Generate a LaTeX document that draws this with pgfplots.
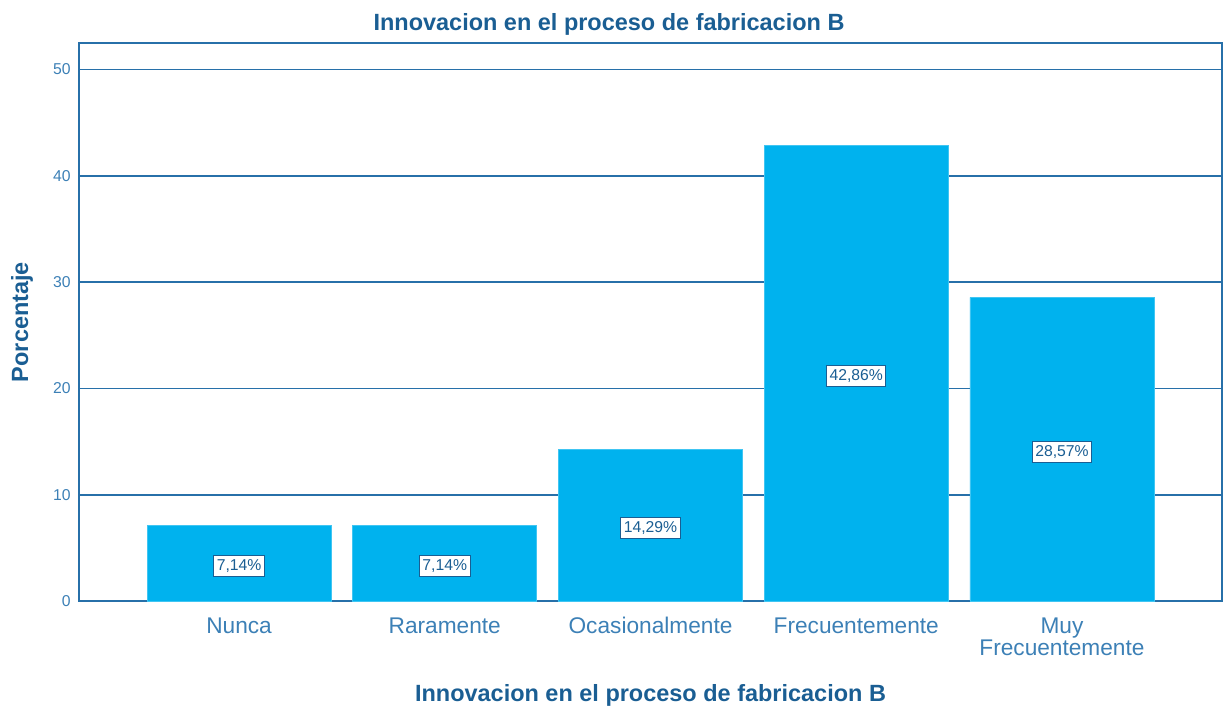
\documentclass[border=0pt]{standalone}
\usepackage{pgfplots}
\pgfplotsset{compat=1.18}
\usepackage{fontspec}
\setmainfont{Liberation Sans}

\definecolor{barblue}{HTML}{00B2EE}
\definecolor{linecol}{HTML}{2770A9}
\definecolor{textcol}{HTML}{1A5E93}
\definecolor{tickcol}{HTML}{3C80B6}

\begin{document}
\begin{tikzpicture}
\begin{axis}[
  name=ax,
  scale only axis,
  width=857pt, height=418.5pt,
  ybar, bar width=138pt,
  xmin=-0.778, xmax=4.778,
  ymin=0, ymax=52.5,
  ytick={0,10,...,50},
  xtick={0,...,4},
  xticklabels={Nunca, Raramente, Ocasionalmente, Frecuentemente, {Muy\\Frecuentemente}},
  ymajorgrids,
  grid style={linecol, line width=1.1pt},
  axis line style={linecol, line width=1.1pt},
  major tick length=0pt,
  /pgf/number format/assume math mode=true,
  yticklabel style={font=\fontsize{11.8}{13}\selectfont, text=tickcol, anchor=east, inner sep=0pt, xshift=-6pt},
  xticklabel style={font=\fontsize{17}{16.5}\selectfont, text=tickcol, align=center, anchor=north, inner sep=0pt, yshift=-12pt},
  title={Innovacion en el proceso de fabricacion B},
  title style={at={(axis description cs:0.4637,1.0072)}, anchor=base, inner sep=0pt, font=\bfseries\fontsize{17.6}{20}\selectfont, text=textcol},
  xlabel={Innovacion en el proceso de fabricacion B},
  xlabel style={at={(axis description cs:0.5,-0.1792)}, anchor=base, inner sep=0pt, font=\bfseries\fontsize{17.6}{20}\selectfont, text=textcol},
  ylabel={Porcentaje},
  ylabel style={at={(axis description cs:-0.0499,0.5)}, anchor=center, inner sep=0pt, font=\bfseries\fontsize{17.6}{20}\selectfont, text=textcol},
]
\addplot[
  fill=barblue, draw=barblue!75!white, line width=0.5pt,
  visualization depends on=rawy \as \rawy,
  nodes near coords={\pgfmathprintnumber[fixed,fixed zerofill,precision=2,use comma]{\pgfplotspointmeta}\%},
  nodes near coords style={anchor=center, shift={(axis direction cs:0,-\rawy/2)}, yshift=-2pt,
    fill=white, draw=textcol, line width=0.6pt, inner xsep=2.2pt, inner ysep=2.8pt,
    text=textcol, font=\fontsize{11.8}{13}\selectfont},
] coordinates {
  (0,7.14)
  (1,7.14)
  (2,14.29)
  (3,42.86)
  (4,28.57)
};
\end{axis}
\path ([xshift=-59.25pt,yshift=-81.75pt]ax.south west) rectangle ([xshift=4.5pt,yshift=32.25pt]ax.north east);
\end{tikzpicture}
\end{document}
